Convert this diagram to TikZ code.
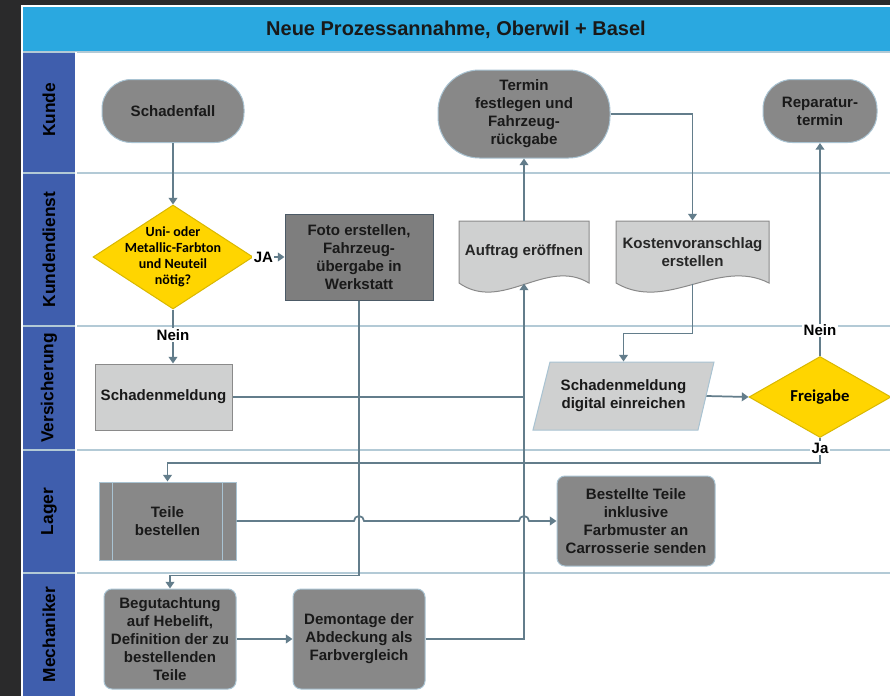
\documentclass[tikz,border=0pt]{standalone}
\usepackage{fontspec}
\setmainfont{Liberation Sans}
\newfontfamily\calfont{Carlito}
\usetikzlibrary{arrows.meta,shapes.geometric,calc}

\definecolor{backdrop}{HTML}{2A2A2B}
\definecolor{titleblue}{HTML}{2AA8E0}
\definecolor{lanehead}{HTML}{3F5EAD}
\definecolor{laneline}{HTML}{B3CAD6}
\definecolor{flowline}{HTML}{637D8B}
\definecolor{darkbox}{HTML}{888888}
\definecolor{fotobox}{HTML}{7E7E7E}
\definecolor{fotoedge}{HTML}{4C5A66}
\definecolor{lightbox}{HTML}{CFD0D0}
\definecolor{greyedge}{HTML}{8A8A8A}
\definecolor{boxedge}{HTML}{A9C3D2}
\definecolor{decyellow}{HTML}{FFD500}
\definecolor{decedge}{HTML}{D9B800}

\newcommand\boxfont{\fontsize{11.3}{13.5}\selectfont\bfseries}
\newcommand\lanefont{\fontsize{13}{15}\selectfont\bfseries}
\newcommand\decfont{\calfont\fontsize{10.5}{12}\selectfont\bfseries}

\tikzset{every picture/.style={line width=0.75pt},
  darkproc/.style={draw=boxedge, fill=darkbox, align=center, inner sep=0pt, font=\boxfont, text=black!90},
  roundproc/.style={darkproc, rounded corners=6pt},
  terminal/.style={darkproc, rounded corners=22pt},
  lightproc/.style={draw=greyedge, fill=lightbox, align=center, inner sep=0pt, font=\boxfont, text=black!90},
  docshape/.style={draw=greyedge, fill=lightbox},
  paraedge/.style={draw=boxedge, fill=lightbox},
  doctext/.style={align=center, inner sep=0pt, font=\boxfont, text=black!85},
  decbox/.style={diamond, draw=decedge, fill=decyellow, inner sep=0pt},
  lanetext/.style={rotate=90, font=\lanefont, text=black},
  lbl/.style={fill=white, inner sep=1pt, font=\boxfont, text=black},
  flow/.style={draw=flowline, line width=1.3pt, -{Triangle[length=5pt,width=6.5pt]}},
  joinline/.style={draw=flowline, line width=1.3pt}
}

\begin{document}
\begin{tikzpicture}[x=0.75pt,y=0.75pt,yscale=-1,xscale=1]
\useasboundingbox (0,0) rectangle (890,696);
\clip (0,0) rectangle (890,696);

%Backdrop
\fill[backdrop] (0,0) rectangle (890,696);
%Title bar
\fill[titleblue] (22,6) rectangle (890,51);
\node[font=\fontsize{15}{18}\selectfont\bfseries, text=black!90] (title) at (456,30) {Neue Prozessannahme, Oberwil + Basel};
%Lanes
\fill[white] (76,52) rectangle (890,696);
\fill[lanehead] (22,52) rectangle (76,696);
\draw[laneline, line width=2pt] (22,52) -- (890,52);
\foreach \y in {173,326,450,573}
  \draw[laneline, line width=1.3pt] (22,\y) -- (890,\y);
\draw[white, line width=1pt] (76,52) -- (76,696);
\draw[white, line width=0.8pt] (22,696) -- (22,6) -- (890,6);
\foreach \lane/\y in {Kunde/110, Kundendienst/249.5, Versicherung/388, Lager/511.5, Mechaniker/634.5}
  \node[lanetext] (lane-\lane) at (49,\y) {\lane};

%Kunde
\node[terminal, minimum width=106.5pt, minimum height=47.25pt] (schadenfall) at (173,111) {Schadenfall};
\node[terminal, rounded corners=31pt, minimum width=129pt, minimum height=66pt] (termin) at (524,114) {Termin\\festlegen und\\Fahrzeug-\\rückgabe};
\node[terminal, minimum width=85.5pt, minimum height=47.25pt] (reparatur) at (820,111) {Reparatur-\\termin};

%Kundendienst
\node[decbox, minimum width=120pt, minimum height=78pt] (farbton) at (173,257) {};
\node[font=\decfont, align=center, inner sep=0pt] (farbtontext) at (farbton) {Uni- oder\\Metallic-Farbton\\und Neuteil\\nötig?};
\node[darkproc, fill=fotobox, draw=fotoedge, minimum width=111pt, minimum height=64.5pt] (foto) at (359,257) {Foto erstellen,\\Fahrzeug-\\übergabe in\\Werkstatt};
%Shape: Document
\filldraw[docshape] (459,221) -- (589,221) -- (589,283) .. controls (546,257) and (502,313) .. (459,283) -- cycle;
\node[doctext, minimum width=97.5pt, minimum height=46.5pt] (auftrag) at (524,252) {Auftrag eröffnen};
%Shape: Document
\filldraw[docshape] (616,221) -- (769,221) -- (769,283) .. controls (718,257) and (667,313) .. (616,283) -- cycle;
\node[doctext, minimum width=114.75pt, minimum height=46.5pt] (kosten) at (692.5,252) {Kostenvoranschlag\\erstellen};

%Versicherung
\node[lightproc, minimum width=102.75pt, minimum height=49.5pt] (schadenmeldung) at (163.5,397) {Schadenmeldung};
%Shape: Parallelogram
\filldraw[paraedge] (550,362) -- (714,362) -- (698,430) -- (533,430) -- cycle;
\node[doctext, text=black!90, minimum width=123.75pt, minimum height=51pt] (digital) at (623.5,396) {Schadenmeldung\\digital einreichen};
\node[decbox, minimum width=106.5pt, minimum height=60.75pt] (freigabe) at (820,397) {};
\node[font=\calfont\fontsize{12.5}{14}\selectfont\bfseries, inner sep=0pt] (freigabetext) at (freigabe) {Freigabe};

%Lager
\node[darkproc, minimum width=102.75pt, minimum height=58.5pt] (teile) at (167.5,521) {Teile\\bestellen};
\draw[boxedge] ([xshift=10.5pt]teile.north west) -- ([xshift=10.5pt]teile.south west);
\draw[boxedge] ([xshift=-10.5pt]teile.north east) -- ([xshift=-10.5pt]teile.south east);
\node[roundproc, minimum width=118.5pt, minimum height=67.5pt] (bestellte) at (636,521) {Bestellte Teile\\inklusive\\Farbmuster an\\Carrosserie senden};

%Mechaniker
\node[roundproc, minimum width=99pt, minimum height=75pt] (begutachtung) at (170,639) {Begutachtung\\auf Hebelift,\\Definition der zu\\bestellenden\\Teile};
\node[roundproc, minimum width=99pt, minimum height=75pt] (demontage) at (359,639) {Demontage der\\Abdeckung als\\Farbvergleich};

%Connectors
\draw[flow] (schadenfall.south) -- (farbton.north);
\draw[flow] (farbton.east) -- node[lbl, pos=0.32] (ja1) {JA} (foto.west);
\draw[flow] (farbton.south) -- node[lbl, pos=0.47] (nein1) {Nein} (farbton.south |- schadenmeldung.north);
\draw[flow] (foto.south) -- ++(0,275) -| (begutachtung.north);
\draw[joinline] (schadenmeldung.east) -- (schadenmeldung.east -| auftrag.south);
\draw[flow] (demontage.east) -| (auftrag.south);
\draw[flow] (auftrag.north) -- (termin.south);
\draw[flow] (termin.east) -| (kosten.north);
\draw[flow] (kosten.south) -- ++(0,50) -| (digital.north);
\draw[flow] (digital.east) -- (freigabe.west);
\draw[flow] (freigabe.north) -- node[lbl, pos=0.12] (nein2) {Nein} (reparatur.south);
\draw[flow] (freigabe.south) -- node[lbl, pos=0.4] (ja2) {Ja} ++(0,25) -| (teile.north);
\draw[flow] (teile.east) -- ($(teile.east -| foto.south)+(-5,0)$) arc[start angle=180, end angle=360, radius=5]
  -- ($(teile.east -| auftrag.south)+(-5,0)$) arc[start angle=180, end angle=360, radius=5] -- (bestellte.west);
\draw[flow] (begutachtung.east) -- (demontage.west);

\end{tikzpicture}
\end{document}
